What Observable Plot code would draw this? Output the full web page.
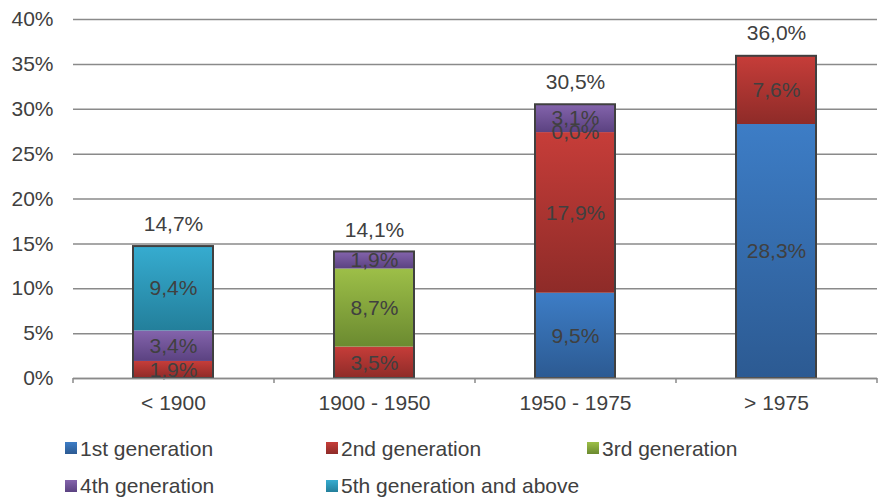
<!DOCTYPE html>
<html>
<head>
<meta charset="utf-8">
<script src="https://cdn.jsdelivr.net/npm/d3@7"></script>
<script src="https://cdn.jsdelivr.net/npm/@observablehq/plot@0.6"></script>
<style>
  html, body { margin: 0; padding: 0; background: #fff; }
  #wrap { position: relative; width: 880px; font-family: "Liberation Sans", Arial, sans-serif; color: #404040; }
  #legend { position: relative; width: 880px; height: 72px; }
  .item { position: absolute; font-size: 21px; line-height: 21px; white-space: nowrap; }
  .sw { position: absolute; width: 12px; height: 12px; }
</style>
</head>
<body>
<div id="wrap"></div>
<script>
const categories = ["< 1900", "1900 - 1950", "1950 - 1975", "> 1975"];
const series = ["1st generation", "2nd generation", "3rd generation", "4th generation", "5th generation and above"];
const gen1 = [null, null, 9.5, 28.3];
const gen2 = [1.9, 3.5, 17.9, 7.6];
const gen3 = [null, 8.7, 0.0, null];
const gen4 = [3.4, 1.9, 3.1, null];
const gen5 = [9.4, null, null, null];
const totals = [14.7, 14.1, 30.5, 36.0];
const yTicks = [0, 5, 10, 15, 20, 25, 30, 35, 40];
const gradTop = ["#3d7dc6", "#c63d39", "#9dbf48", "#8464ac", "#36acd0"];
const gradBottom = ["#2c5a92", "#8e2b28", "#6b8a30", "#5b4281", "#237f9b"];

const seriesValues = [gen1, gen2, gen3, gen4, gen5];
const rows = [];
seriesValues.forEach((vals, s) => {
  vals.forEach((v, c) => {
    if (v != null) rows.push({category: categories[c], series: series[s], value: v});
  });
});
const sums = categories.map(c => d3.sum(rows.filter(r => r.category === c), r => r.value));
const fmt = v => v.toFixed(1).replace(".", ",") + "%";

const boundaryTicks = (index, scales, values, dims) => {
  const g = d3.create("svg:g");
  const n = categories.length;
  const x0 = dims.marginLeft, x1 = dims.width - dims.marginRight;
  const y0 = dims.height - dims.marginBottom;
  for (let i = 0; i <= n; i++) {
    const x = x0 + (x1 - x0) * i / n;
    g.append("line").attr("x1", x).attr("x2", x).attr("y1", y0).attr("y2", y0 + 5)
      .attr("stroke", "#8a8a8a").attr("stroke-width", 1.5);
  }
  return g.node();
};

const chart = Plot.plot({
  width: 880,
  height: 425,
  marginLeft: 73,
  marginRight: 3,
  marginTop: 19,
  marginBottom: 47,
  style: {fontFamily: "'Liberation Sans', Arial, sans-serif", fontSize: "21px", color: "#404040", background: "white", overflow: "visible"},
  x: {domain: categories, paddingInner: 0.6, paddingOuter: 0.3, label: null},
  y: {domain: [0, 40], label: null},
  color: {domain: series, range: series.map((_, i) => `url(#grad${i})`)},
  marks: [
    Plot.gridY(yTicks, {stroke: "#8a8a8a", strokeOpacity: 1, strokeWidth: 1.5}),
    Plot.barY(rows, Plot.stackY({x: "category", y: "value", fill: "series"})),
    Plot.barY(categories, {x: d => d, y: (d, i) => sums[i], fill: "none", stroke: "#404040", strokeWidth: 2}),
    Plot.text(rows, Plot.stackY({x: "category", y: "value", text: d => fmt(d.value), fill: "#404040", fontSize: 21})),
    Plot.text(categories, {x: d => d, y: (d, i) => totals[i], text: (d, i) => fmt(totals[i]), dy: -22, fill: "#404040", fontSize: 21}),
    Plot.axisY({ticks: yTicks, tickSize: 0, tickPadding: 20, tickFormat: d => d + "%", fontSize: 21}),
    Plot.axisX({tickSize: 0, tickPadding: 17, fontSize: 21}),
    Plot.ruleY([0], {stroke: "#8a8a8a", strokeWidth: 1.5}),
    boundaryTicks
  ]
});

// gradients
const defs = d3.select(chart).insert("defs", ":first-child");
series.forEach((s, i) => {
  const lg = defs.append("linearGradient").attr("id", `grad${i}`).attr("x1", 0).attr("y1", 0).attr("x2", 0).attr("y2", 1);
  lg.append("stop").attr("offset", "0%").attr("stop-color", gradTop[i]);
  lg.append("stop").attr("offset", "100%").attr("stop-color", gradBottom[i]);
});

const wrap = document.getElementById("wrap");
wrap.appendChild(chart);

// legend
const legend = document.createElement("div");
legend.id = "legend";
const pos = [[65, 0], [326, 0], [587, 0], [65, 1], [326, 1]];
series.forEach((s, i) => {
  const [x, r] = pos[i];
  const sw = document.createElement("div");
  sw.className = "sw";
  sw.style.left = x + "px";
  sw.style.top = (17 + r * 38) + "px";
  sw.style.background = `linear-gradient(${gradTop[i]}, ${gradBottom[i]})`;
  legend.appendChild(sw);
  const t = document.createElement("div");
  t.className = "item";
  t.style.left = (x + 15) + "px";
  t.style.top = (13 + r * 37) + "px";
  t.textContent = s;
  legend.appendChild(t);
});
wrap.appendChild(legend);
</script>
</body>
</html>
